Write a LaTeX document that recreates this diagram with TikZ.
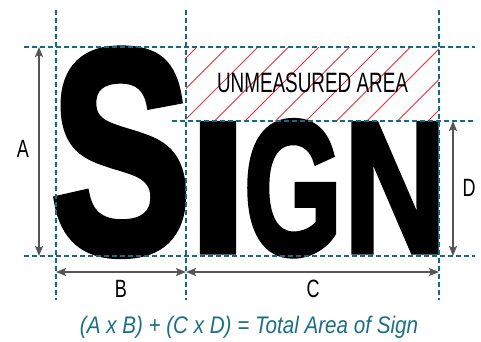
\documentclass[tikz,border=0pt]{standalone}
\usepackage{fontspec}
\setmainfont{Liberation Sans}
\newfontfamily\heavyfont{Liberation Sans Bold}[FakeBold=3]
\usetikzlibrary{arrows.meta}
\definecolor{guide}{HTML}{146A80}
\definecolor{formulacol}{HTML}{1B6E86}
\definecolor{dimcol}{HTML}{555555}
\definecolor{hatchcol}{HTML}{E2333B}
\tikzset{
  guideline/.style={draw=guide, line width=2pt, dash pattern=on 4.5pt off 3.5pt},
  dimline/.style={draw=dimcol, line width=1.7pt, {Stealth[length=10pt,width=8pt,inset=2pt]}-{Stealth[length=10pt,width=8pt,inset=2pt]}},
  hatchline/.style={draw=hatchcol, line width=0.8pt},
  dimlabel/.style={inner sep=0pt, font=\fontsize{25}{25}\selectfont},
  letter/.style={inner sep=0pt, anchor=south},
}
\newcommand{\narrow}[1]{\scalebox{0.72}[1]{#1}}
\begin{document}
\begin{tikzpicture}[x=1pt,y=-1pt]
\useasboundingbox (0,0) rectangle (481,341);
% hatched unmeasured area
\begin{scope}
  \clip (186,47) rectangle (439,121);
  \foreach \k in {-1,...,11} {
    \pgfmathsetmacro{\c}{244+30.5*\k}
    \draw[hatchline] (\c-121,121) -- (\c-47,47);
  }
\end{scope}
\node[inner sep=0pt, anchor=base] (unm) at (312.5,92)
  {\fontsize{28}{28}\selectfont\resizebox{191pt}{\height}{UNMEASURED AREA}};
% big letters
\node[letter] (S) at (121,255) {\resizebox*{140pt}{205pt}{\heavyfont S}};
\node[letter] (I) at (218,252) {\resizebox*{58pt}{128pt}{\heavyfont I}};
\node[letter] (G) at (293,256) {\resizebox*{98pt}{135pt}{\heavyfont G}};
\node[letter] (N) at (395,252) {\resizebox*{102pt}{128pt}{\heavyfont N}};
% guide coordinates
\coordinate (v1t) at (56,10);  \coordinate (v1b) at (56,300);
\coordinate (v2t) at (186,10); \coordinate (v2b) at (186,300);
\coordinate (v3t) at (439,10); \coordinate (v3b) at (439,300);
\coordinate (h1l) at (24,47);  \coordinate (h1r) at (475,47);
\coordinate (h2l) at (172,121);\coordinate (h2r) at (475,121);
\coordinate (h3l) at (24,256); \coordinate (h3r) at (475,256);
\draw[guideline] (v1t) -- (v1b);
\draw[guideline] (v2t) -- (v2b);
\draw[guideline] (v3t) -- (v3b);
\draw[guideline] (h1l) -- (h1r);
\draw[guideline] (h2l) -- (h2r);
\draw[guideline] (h3l) -- (h3r);
% dimension arrows
\coordinate (at) at (39,47);  \coordinate (ab) at (39,256);
\coordinate (dt) at (453,121); \coordinate (db) at (453,256);
\coordinate (bl) at (56,272);  \coordinate (br) at (186,272);
\coordinate (cl) at (186,272); \coordinate (cr) at (439,272);
\draw[dimline] (at) -- (ab);
\draw[dimline] (dt) -- (db);
\draw[dimline] (bl) -- (br);
\draw[dimline] (cl) -- (cr);
\node[dimlabel] (la) at (23,149) {\narrow{A}};
\node[dimlabel] (lb) at (121,289) {\narrow{B}};
\node[dimlabel] (lc) at (313,289) {\narrow{C}};
\node[dimlabel] (ld) at (469,188) {\narrow{D}};
% formula
\node[inner sep=0pt, anchor=base, text=formulacol] (formula) at (249,333)
  {\fontsize{24}{24}\selectfont\itshape\resizebox{338pt}{\height}{(A x B) + (C x D) = Total Area of Sign}};
\end{tikzpicture}
\end{document}
